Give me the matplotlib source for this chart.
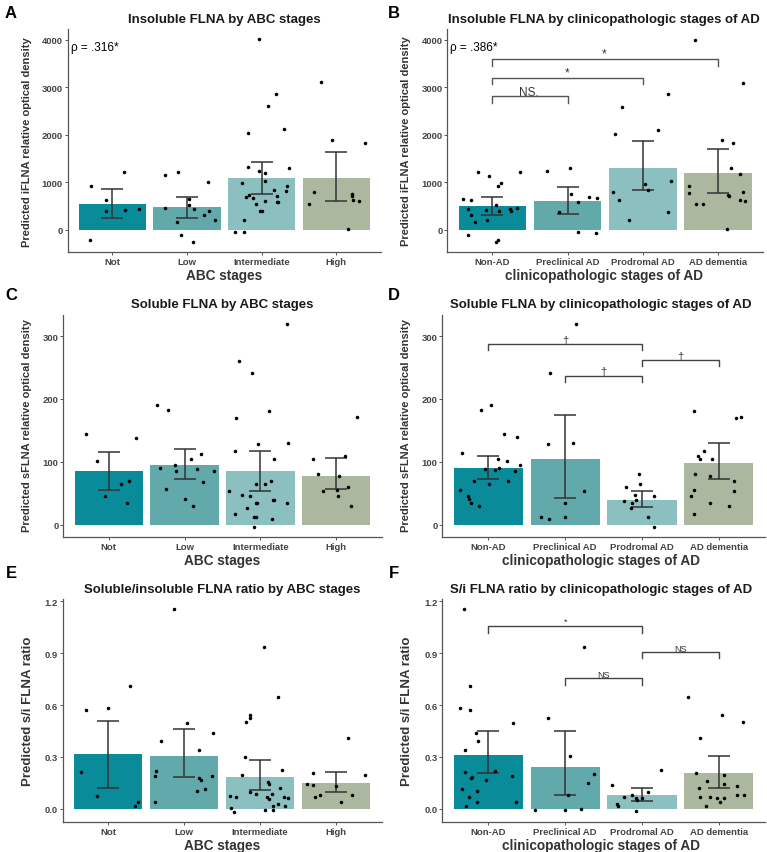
import matplotlib
matplotlib.use('Agg')
from matplotlib import pyplot as plt

plt.rcParams['font.family'] = ['Liberation Sans', 'DejaVu Sans']

W, H = 767, 853

abc_cats = ['Not', 'Low', 'Intermediate', 'High']
ad_cats = ['Non-AD', 'Preclinical AD', 'Prodromal AD', 'AD dementia']
bar_colors = ['#0a8b99', '#62a9ab', '#8cbfbf', '#abb89f']

# --- A: insoluble FLNA by ABC stages
a_mean = [547, 471, 1081, 1081]
a_lo = [240, 254, 746, 606]
a_hi = [853, 697, 1415, 1627]
a_y = [
    [926, 1204, 634, 401, 408, 444, -211],
    [1141, 1218, 1000, 465, 648, 528, 437, 310, 387, 197, 162, -113, -254],
    [4014, 2852, 2599, 2120, 2028, 1310, 1232, 1183, 1028, 1296, 979, 739, 683, 669,
     535, 606, 387, 387, 831, 718, 810, 915, 592, 577, 211, -49, -49],
    [3099, 1887, 1831, 803, 549, 754, 718, 627, 606, 14],
]
a_dx = [
    [-0.29, 0.15, -0.08, -0.08, 0.17, 0.35, -0.30],
    [-0.29, -0.12, 0.28, -0.29, 0.02, 0.02, 0.09, 0.23, 0.30, 0.37, -0.14, -0.08, 0.08],
    [-0.04, 0.19, 0.08, 0.30, -0.18, -0.18, -0.04, 0.05, 0.04, 0.36, -0.27, -0.17, -0.21, -0.11,
     -0.07, 0.04, -0.02, 0.00, 0.16, 0.20, 0.32, 0.34, 0.20, 0.22, -0.23, -0.36, -0.24],
    [-0.21, -0.06, 0.38, -0.30, -0.37, 0.21, 0.21, 0.22, 0.30, 0.16],
]

# --- B: insoluble FLNA by clinicopathologic stages
b_mean = [494, 608, 1305, 1186]
b_lo = [316, 330, 835, 772]
b_hi = [695, 891, 1860, 1691]
b_y = [
    [1208, 1137, 983, 926, 1208, 640, 632, 436, 316, 162, 408, 520, 387, 197, 436, 400, 463,
     -112, -259, -210],
    [1229, 1305, 745, 576, 681, 667, 379, -48, -63],
    [2589, 2021, 2105, 2849, 800, 618, 961, 828, 1025, 379, 204],
    [4000, 3088, 1881, 1825, 1291, 1179, 919, 765, 547, 533, 737, 709, 786, 618, 604, 14],
]
b_dx = [
    [-0.19, -0.04, 0.11, 0.08, 0.37, -0.39, -0.29, -0.32, -0.29, -0.23, -0.09, 0.05, 0.09,
     -0.07, 0.24, 0.25, 0.33, -0.32, 0.05, 0.08],
    [-0.28, 0.03, 0.04, 0.14, 0.28, 0.39, -0.12, 0.14, 0.38],
    [-0.27, -0.37, 0.20, 0.33, -0.39, -0.32, 0.03, 0.07, 0.37, 0.34, -0.18],
    [-0.31, 0.33, 0.06, 0.20, 0.18, 0.30, -0.39, -0.39, -0.29, -0.20, 0.14, 0.15, 0.34, 0.30,
     0.36, 0.12],
]
# brackets: (from, to, top, leg end, label, label baseline)
b_sig = [(0, 1, 2807, 2667, 'NS.', 2830),
         (0, 2, 3200, 3060, '*', 3240),
         (0, 3, 3586, 3453, '*', 3640)]
b_sig_x = [0.49, 0.99, 1.49]

# --- C: soluble FLNA by ABC stages
c_mean = [85, 95, 85, 78]
c_lo = [56, 72, 54, 57]
c_hi = [115, 120, 117, 106]
c_y = [
    [144, 138, 101, 70, 64, 46, 34],
    [190, 182, 90, 95, 86, 104, 113, 88, 86, 68, 57, 41, 30],
    [320, 261, 241, 169, 181, 117, 129, 130, 105, 54, 47, 45, 35, 34, 27, 17, 13, 13, -3,
     65, 70, 65, 40, 39, 34, 9],
    [171, 104, 81, 109, 77, 53, 56, 60, 45, 29],
]
c_dx = [
    [-0.30, 0.36, -0.15, 0.27, 0.16, -0.05, 0.24],
    [-0.37, -0.22, -0.33, -0.13, -0.11, 0.08, 0.22, 0.16, 0.39, 0.24, -0.24, 0.00, 0.11],
    [0.35, -0.28, -0.11, -0.32, 0.11, -0.34, -0.03, 0.37, 0.18, -0.42, -0.24, -0.14, -0.06,
     -0.04, -0.18, -0.33, -0.09, -0.06, -0.08, 0.06, 0.14, -0.06, 0.17, 0.18, 0.35, 0.15],
    [0.27, -0.30, -0.24, 0.12, 0.04, -0.18, 0.01, 0.15, 0.03, 0.20],
]

# --- D: soluble FLNA by clinicopathologic stages
d_mean = [91, 105, 40, 98]
d_lo = [72, 42, 28, 72]
d_hi = [110, 175, 54, 130]
d_y = [
    [183, 190, 114, 144, 139, 88, 87, 105, 90, 101, 86, 95, 70, 64, 69, 56, 46, 41, 34, 30],
    [319, 241, 129, 130, 54, 35, 13, 9, 12],
    [80, 60, 65, 47, 45, 38, 34, 39, 27, 13, -3],
    [181, 169, 171, 109, 105, 118, 104, 80, 77, 56, 45, 70, 53, 17, 35, 29],
]
d_dx = [
    [-0.09, 0.03, -0.34, 0.20, 0.37, -0.04, 0.08, 0.13, 0.14, 0.24, 0.35, 0.41, -0.19, 0.01,
     0.25, -0.37, -0.26, -0.25, -0.23, -0.12],
    [0.14, -0.20, -0.22, 0.10, 0.25, 0.00, -0.32, -0.21, 0.00],
    [-0.04, -0.21, -0.03, -0.09, 0.16, -0.23, -0.13, -0.08, -0.14, 0.08, 0.15],
    [-0.32, 0.22, 0.29, -0.27, -0.24, -0.20, -0.09, -0.31, -0.12, -0.33, -0.36, 0.20, 0.20,
     -0.32, -0.11, 0.13],
]
d_sig = [(0, 2, 287, 278, '\u2020', 289),
         (1, 2, 237, 227, '\u2020', 239),
         (2, 3, 262, 252, '\u2020', 264)]
d_sig_x = [1.0, 1.5, 2.5]

# --- E: s/i ratio by ABC stages
e_mean = [0.315, 0.308, 0.185, 0.150]
e_lo = [0.119, 0.183, 0.108, 0.098]
e_hi = [0.506, 0.463, 0.281, 0.215]
e_y = [
    [0.571, 0.712, 0.585, 0.215, 0.073, 0.038, 0.019],
    [1.154, 0.496, 0.390, 0.437, 0.340, 0.219, 0.188, 0.179, 0.167, 0.188, 0.115, 0.102, 0.038],
    [0.937, 0.648, 0.542, 0.523, 0.500, 0.302, 0.225, 0.198, 0.096, 0.085, 0.154, 0.144, 0.077,
     0.067, 0.067, 0.058, 0.085, 0.121, 0.067, 0.062, 0.017, 0.027, 0.017, 0.004, -0.015,
     -0.008, -0.004],
    [0.408, 0.196, 0.206, 0.142, 0.140, 0.083, 0.067, 0.131, 0.083, 0.038],
]
e_dx = [
    [-0.29, 0.29, 0.00, -0.36, -0.15, 0.39, 0.35],
    [-0.14, 0.04, -0.30, 0.38, 0.19, -0.37, -0.39, 0.20, 0.22, 0.36, 0.28, 0.17, -0.39],
    [0.05, 0.23, -0.13, -0.13, -0.19, -0.20, 0.29, -0.24, -0.14, -0.05, 0.10, 0.11, -0.40,
     -0.32, 0.09, 0.11, 0.15, 0.26, 0.31, 0.37, 0.17, 0.24, 0.33, -0.39, -0.35, 0.07, 0.17],
    [0.15, 0.38, -0.31, -0.39, -0.31, -0.21, -0.28, 0.00, 0.21, 0.06],
]

# --- F: s/i ratio by clinicopathologic stages
f_mean = [0.310, 0.242, 0.079, 0.206]
f_lo = [0.208, 0.079, 0.044, 0.123]
f_hi = [0.448, 0.448, 0.121, 0.306]
f_y = [
    [1.154, 0.712, 0.583, 0.571, 0.437, 0.390, 0.340, 0.496, 0.215, 0.179, 0.187, 0.167, 0.219,
     0.188, 0.115, 0.071, 0.102, 0.038, 0.019, 0.038],
    [0.937, 0.523, 0.304, 0.200, 0.148, 0.083, -0.004, -0.006, 0.000],
    [0.140, 0.027, 0.015, 0.067, 0.083, 0.063, 0.054, 0.096, 0.062, -0.013, 0.225],
    [0.648, 0.542, 0.500, 0.408, 0.206, 0.162, 0.121, 0.196, 0.144, 0.131, 0.067, 0.067, 0.062,
     0.065, 0.083, 0.083, 0.017, 0.038],
]
f_dx = [
    [-0.32, -0.24, -0.37, -0.24, -0.16, -0.13, -0.31, 0.32, -0.30, -0.23, -0.21, -0.03, 0.09,
     0.31, -0.35, -0.25, -0.15, -0.15, -0.29, 0.36],
    [0.25, -0.23, 0.06, 0.38, 0.30, 0.04, -0.39, 0.00, 0.21],
    [-0.39, -0.33, -0.31, -0.24, -0.13, -0.08, -0.06, 0.08, 0.00, -0.08, 0.24],
    [-0.40, 0.04, 0.32, -0.24, -0.30, -0.16, -0.26, 0.07, 0.07, 0.23, -0.24, -0.11, -0.03,
     0.07, 0.24, 0.33, -0.17, 0.02],
]
f_sig = [(0, 2, 1.054, 1.015, '*', 1.070),
         (1, 2, 0.754, 0.717, 'NS', 0.763),
         (2, 3, 0.904, 0.869, 'NS', 0.912)]
f_sig_x = [1.0, 1.5, 2.5]

fig = plt.figure(figsize=(W / 100, H / 100), dpi=100)
fig.patch.set_facecolor('white')


def box(l, t, r, b):
    return [l / W, 1 - b / H, (r - l) / W, (b - t) / H]


def ftext(x, y, s, **kw):
    fig.text(x / W, 1 - y / H, s, **kw)


def panel(rect, cats, mean, lo, hi, ys, dxs, ylim, yticks, yticklabels):
    ax = fig.add_axes(box(*rect))
    xs = range(len(cats))
    ax.bar(xs, mean, width=0.9, color=bar_colors, zorder=1)
    for i in xs:
        ax.scatter([i + d for d in dxs[i]], ys[i], s=6.5, color='black', zorder=3, linewidths=0)
    ax.errorbar(xs, mean, yerr=[[m - l for m, l in zip(mean, lo)], [h - m for m, h in zip(mean, hi)]],
                fmt='none', ecolor='#333333', elinewidth=1.1, capsize=8, capthick=1.1, zorder=2)
    ax.set_xlim(-0.6, 3.6)
    ax.set_ylim(*ylim)
    ax.set_xticks(list(xs))
    ax.set_xticklabels(cats, fontsize=6.8, fontweight='bold', color='#444444')
    ax.set_yticks(yticks)
    ax.set_yticklabels(yticklabels, fontsize=6.8, fontweight='bold', color='#444444')
    for s in ['top', 'right']:
        ax.spines[s].set_visible(False)
    for s in ['left', 'bottom']:
        ax.spines[s].set_color('#555555')
        ax.spines[s].set_linewidth(0.9)
    ax.tick_params(length=2, width=0.7, color='#555555', pad=1.5)
    ax.set_facecolor('white')
    return ax


def brackets(ax, sig, sig_x, fs, color='#444444'):
    for (x1, x2, top, leg, lab, ly), lx in zip(sig, sig_x):
        ax.plot([x1, x1, x2, x2], [leg, top, top, leg], color=color, lw=1.0, zorder=4)
        ax.text(lx, ly, lab, ha='center', va='baseline', fontsize=fs, color='#333333')


ins_ticks = [0, 1000, 2000, 3000, 4000]
sol_ticks = [0, 100, 200, 300]
rat_ticks = [0.0, 0.3, 0.6, 0.9, 1.2]

axA = panel((67.7, 30, 381, 253.3), abc_cats, a_mean, a_lo, a_hi, a_y, a_dx,
            (-476, 4225), ins_ticks, [str(t) for t in ins_ticks])
axA.text(-0.55, 3840, '\u03c1 = .316*', fontsize=8.5, va='center', ha='left')

axB = panel((447.3, 30, 763, 253.3), ad_cats, b_mean, b_lo, b_hi, b_y, b_dx,
            (-476, 4225), ins_ticks, [str(t) for t in ins_ticks])
axB.text(-0.56, 3840, '\u03c1 = .386*', fontsize=8.5, va='center', ha='left')
brackets(axB, b_sig, b_sig_x, 8.5, color='#555555')

axC = panel((63.3, 315.7, 381.7, 538.3), abc_cats, c_mean, c_lo, c_hi, c_y, c_dx,
            (-20, 334), sol_ticks, [str(t) for t in sol_ticks])
axD = panel((442.3, 315.7, 765, 538.3), ad_cats, d_mean, d_lo, d_hi, d_y, d_dx,
            (-20, 334), sol_ticks, [str(t) for t in sol_ticks])
brackets(axD, d_sig, d_sig_x, 8)

axE = panel((62.7, 600, 381.7, 823.3), abc_cats, e_mean, e_lo, e_hi, e_y, e_dx,
            (-0.077, 1.212), rat_ticks, ['%.1f' % t for t in rat_ticks])
axF = panel((442.3, 600, 765, 823.3), ad_cats, f_mean, f_lo, f_hi, f_y, f_dx,
            (-0.077, 1.212), rat_ticks, ['%.1f' % t for t in rat_ticks])
brackets(axF, f_sig, f_sig_x, 6.5)

# titles
tkw = dict(ha='center', va='center', fontsize=9.5, fontweight='bold', color='#1a1a1a')
ftext(224, 20, 'Insoluble FLNA by ABC stages', **tkw)
ftext(604, 20, 'Insoluble FLNA by clinicopathologic stages of AD', **tkw)
ftext(222, 305, 'Soluble FLNA by ABC stages', **tkw)
ftext(601, 305, 'Soluble FLNA by clinicopathologic stages of AD', **tkw)
ftext(222, 590, 'Soluble/insoluble FLNA ratio by ABC stages', **tkw)
ftext(601, 590, 'S/i FLNA ratio by clinicopathologic stages of AD', **tkw)

# panel letters
lkw = dict(ha='center', va='center', fontsize=12, fontweight='bold', color='black')
for x, y, s in [(11, 13, 'A'), (394, 13, 'B'), (11, 296, 'C'), (394, 296, 'D'),
                (11, 574, 'E'), (394, 574, 'F')]:
    ftext(x, y, s, **lkw)

# axis titles
xkw = dict(ha='center', va='center', fontsize=9.8, fontweight='bold', color='#333333')
ftext(224, 276, 'ABC stages', **xkw)
ftext(604, 276, 'clinicopathologic stages of AD', **xkw)
ftext(222, 561, 'ABC stages', **xkw)
ftext(601, 561, 'clinicopathologic stages of AD', **xkw)
ftext(222, 846, 'ABC stages', **xkw)
ftext(601, 846, 'clinicopathologic stages of AD', **xkw)

ykw = dict(ha='center', va='center', rotation=90, fontsize=8, fontweight='bold', color='#333333')
ftext(27, 142, 'Predicted iFLNA relative optical density', **ykw)
ftext(406, 141, 'Predicted iFLNA relative optical density', **ykw)
ftext(27, 426, 'Predicted sFLNA relative optical density', **ykw)
ftext(406, 426, 'Predicted sFLNA relative optical density', **ykw)
ykw2 = dict(ykw, fontsize=9.5)
ftext(28, 711, 'Predicted s/i FLNA ratio', **ykw2)
ftext(407, 711, 'Predicted s/i FLNA ratio', **ykw2)

fig.savefig('out.png', dpi=100)
